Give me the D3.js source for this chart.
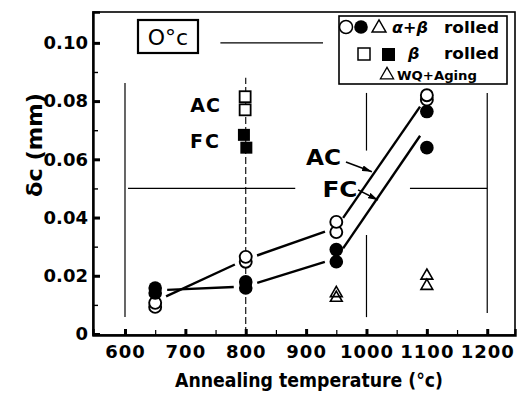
<!DOCTYPE html>
<html>
<head>
<meta charset="utf-8">
<script src="https://cdn.jsdelivr.net/npm/d3@7/dist/d3.min.js"></script>
<style>
  body { margin: 0; background: #fff; }
  svg { display: block; }
  text { font-family: "DejaVu Sans", sans-serif; fill: #000; }
</style>
</head>
<body>
<figure id="chart" style="margin:0"></figure>
<script>
// ---- data ----
const xTicks = [600, 700, 800, 900, 1000, 1100, 1200];
const yTicks = [0, 0.02, 0.04, 0.06, 0.08, 0.10];
const lineTemps = [650, 800, 950, 1100];
const acLine = [0.0112, 0.0256, 0.0365, 0.0815];
const fcLine = [0.0150, 0.0163, 0.0260, 0.0715];

// alpha+beta rolled, AC (open) and FC (filled)
const abOpen = [[650, 0.0093], [650, 0.0107], [800, 0.0248], [800, 0.0265],
                [950, 0.0350], [950, 0.0385], [1100, 0.0805], [1100, 0.0820]];
const abFilled = [[650, 0.0141], [650, 0.0158], [800, 0.0158], [800, 0.0179],
                  [950, 0.0248], [950, 0.0290], [1100, 0.0764], [1100, 0.0640]];
// beta rolled
const bOpen = [[799, 0.0815], [799, 0.0770]];
const bFilled = [[797, 0.0684], [801, 0.0640]];
// WQ + aging
const wqTri = [[950, 0.0124], [950, 0.0140], [1100, 0.0165], [1100, 0.0200]];

// leftover guide lines of the original graph paper [x1, y1, x2, y2]
const guides = [
  [600, 0.0058, 600, 0.0862],
  [1000, 0.0630, 1000, 0.0828],
  [1000, 0.0058, 1000, 0.0340],
  [1200, 0.0072, 1200, 0.0828],
  [758, 0.100, 928, 0.100],
  [605, 0.050, 882, 0.050],
  [1072, 0.050, 1200, 0.050]
];
const dashedGuide = [800, 0, 800, 0.088];

const width = 517, height = 396;

const svg = d3.select("figure#chart")
  .append("svg")
  .attr("width", width)
  .attr("height", height);

const x = d3.scaleLinear().domain([547, 1246]).range([93, 515]);
const y = d3.scaleLinear().domain([0, 0.1106]).range([334, 12]);

// guide lines
svg.append("g")
  .selectAll("line")
  .data(guides)
  .enter()
  .append("line")
  .attr("x1", d => x(d[0])).attr("y1", d => y(d[1]))
  .attr("x2", d => x(d[2])).attr("y2", d => y(d[3]))
  .attr("stroke", "#000").attr("stroke-width", 1.2);

svg.append("line")
  .attr("x1", x(dashedGuide[0])).attr("y1", y(dashedGuide[1]))
  .attr("x2", x(dashedGuide[2])).attr("y2", y(dashedGuide[3]))
  .attr("stroke", "#000").attr("stroke-width", 1.1)
  .attr("stroke-dasharray", "7,3");

// frame
svg.append("rect")
  .attr("x", 93).attr("y", 12)
  .attr("width", 422).attr("height", 323)
  .attr("fill", "none").attr("stroke", "#000").attr("stroke-width", 1.6);

// y axis
const yAxis = svg.append("g")
  .attr("transform", "translate(93,0)")
  .call(d3.axisLeft(y).tickValues(yTicks).tickSize(-7).tickPadding(5)
    .tickFormat(d => d === 0 ? "0" : d.toFixed(2)));
yAxis.select(".domain").attr("stroke-width", 2.4);
yAxis.selectAll(".tick line").attr("stroke-width", 3);
yAxis.selectAll("text")
  .attr("font-size", 18).attr("font-weight", "bold")
  .style("font-family", "DejaVu Sans");

svg.append("g")
  .attr("transform", "translate(93,0)")
  .call(d3.axisLeft(y).tickValues([0.01, 0.03, 0.05, 0.07, 0.09]).tickSize(-5).tickFormat(""))
  .call(g => g.select(".domain").remove())
  .selectAll("line").attr("stroke-width", 1.4);

// x axis
const xAxis = svg.append("g")
  .attr("transform", "translate(0,335)")
  .call(d3.axisBottom(x).tickValues(xTicks).tickSize(-6).tickPadding(10)
    .tickFormat(d3.format("d")));
xAxis.select(".domain").attr("stroke-width", 2.4);
xAxis.selectAll(".tick line").attr("stroke-width", 3);
xAxis.selectAll("text")
  .attr("font-size", 18).attr("font-weight", "bold")
  .attr("letter-spacing", 1)
  .style("font-family", "DejaVu Sans");

svg.append("g")
  .attr("transform", "translate(0,335)")
  .call(d3.axisBottom(x).tickValues([650, 750, 850, 950, 1050, 1150]).tickSize(-5).tickFormat(""))
  .call(g => g.select(".domain").remove())
  .selectAll("line").attr("stroke-width", 1.2);

// axis labels
svg.append("text")
  .attr("x", 175).attr("y", 387)
  .attr("font-size", 19).attr("font-weight", "bold")
  .attr("textLength", 268).attr("lengthAdjust", "spacingAndGlyphs")
  .text("Annealing temperature (°c)");

svg.append("text")
  .attr("transform", "translate(42,145) rotate(-90)")
  .attr("text-anchor", "middle")
  .attr("font-size", 22).attr("font-weight", "bold")
  .attr("textLength", 104).attr("lengthAdjust", "spacingAndGlyphs")
  .text("δc  (mm)");

// lines with gaps near the markers
function drawBroken(vals) {
  const pts = lineTemps.map((t, i) => [x(t), y(vals[i])]);
  const gap = 12;
  for (let i = 0; i < pts.length - 1; i++) {
    const [x1, y1] = pts[i], [x2, y2] = pts[i + 1];
    const len = Math.hypot(x2 - x1, y2 - y1);
    const ux = (x2 - x1) / len, uy = (y2 - y1) / len;
    svg.append("line")
      .attr("x1", x1 + ux * gap).attr("y1", y1 + uy * gap)
      .attr("x2", x2 - ux * gap).attr("y2", y2 - uy * gap)
      .attr("stroke", "#000").attr("stroke-width", 2.4);
  }
}
drawBroken(acLine);
drawBroken(fcLine);

// markers
const marks = svg.append("g");
marks.selectAll(".oc").data(abOpen).enter().append("circle")
  .attr("cx", d => x(d[0])).attr("cy", d => y(d[1])).attr("r", 6)
  .attr("fill", "#fff").attr("stroke", "#000").attr("stroke-width", 1.9);
marks.selectAll(".fc").data(abFilled).enter().append("circle")
  .attr("cx", d => x(d[0])).attr("cy", d => y(d[1])).attr("r", 6.8)
  .attr("fill", "#000");
marks.selectAll(".os").data(bOpen).enter().append("rect")
  .attr("x", d => x(d[0]) - 5.5).attr("y", d => y(d[1]) - 5.5)
  .attr("width", 11).attr("height", 11)
  .attr("fill", "#fff").attr("stroke", "#000").attr("stroke-width", 1.8);
marks.selectAll(".fs").data(bFilled).enter().append("rect")
  .attr("x", d => x(d[0]) - 6).attr("y", d => y(d[1]) - 6)
  .attr("width", 12).attr("height", 12)
  .attr("fill", "#000");
const tri = d3.symbol().type(d3.symbolTriangle).size(60);
marks.selectAll(".tr").data(wqTri).enter().append("path")
  .attr("d", tri)
  .attr("transform", d => "translate(" + x(d[0]) + "," + y(d[1]) + ")")
  .attr("fill", "none").attr("stroke", "#000").attr("stroke-width", 1.6);

// AC / FC labels beside the beta-rolled squares
svg.append("text").attr("x", 221).attr("y", 112).attr("text-anchor", "end")
  .attr("font-size", 19).attr("font-weight", "bold").attr("letter-spacing", 1).text("AC");
svg.append("text").attr("x", 221).attr("y", 148).attr("text-anchor", "end")
  .attr("font-size", 19).attr("font-weight", "bold").attr("letter-spacing", 2).text("FC");

// AC / FC arrows pointing at the lines
svg.append("defs").append("marker")
  .attr("id", "arr").attr("viewBox", "0 0 10 6")
  .attr("refX", 10).attr("refY", 3)
  .attr("markerWidth", 10).attr("markerHeight", 6)
  .attr("markerUnits", "userSpaceOnUse")
  .attr("orient", "auto")
  .append("path").attr("d", "M0,0 L10,3 L0,6 Z").attr("fill", "#000");

const notes = [
  { text: "AC", tx: 900, ty: 0.058, ax1: 966, ay1: 0.0591, ax2: 1009, ay2: 0.0557 },
  { text: "FC", tx: 927, ty: 0.047, ax1: 986, ay1: 0.0495, ax2: 1019, ay2: 0.0460 }
];
notes.forEach(n => {
  svg.append("text").attr("x", x(n.tx)).attr("y", y(n.ty))
    .attr("font-size", 21).attr("font-weight", "bold")
    .attr("textLength", 35).attr("lengthAdjust", "spacingAndGlyphs").text(n.text);
  svg.append("line")
    .attr("x1", x(n.ax1)).attr("y1", y(n.ay1))
    .attr("x2", x(n.ax2)).attr("y2", y(n.ay2))
    .attr("stroke", "#000").attr("stroke-width", 1.6)
    .attr("marker-end", "url(#arr)");
});

// temperature box
svg.append("rect").attr("x", 138).attr("y", 20).attr("width", 60).attr("height", 33)
  .attr("fill", "#fff").attr("stroke", "#000").attr("stroke-width", 2.2);
svg.append("text").attr("x", 168).attr("y", 45).attr("text-anchor", "middle")
  .attr("font-size", 22).text("O°c");

// legend
const lg = svg.append("g");
lg.append("rect").attr("x", 339).attr("y", 16).attr("width", 168).attr("height", 68)
  .attr("fill", "#fff").attr("stroke", "#000").attr("stroke-width", 1.6);
lg.append("circle").attr("cx", 346).attr("cy", 27).attr("r", 6.5)
  .attr("fill", "#fff").attr("stroke", "#000").attr("stroke-width", 1.5);
lg.append("circle").attr("cx", 361).attr("cy", 27).attr("r", 6.8).attr("fill", "#000");
lg.append("path").attr("d", d3.symbol().type(d3.symbolTriangle).size(85))
  .attr("transform", "translate(379,28)")
  .attr("fill", "none").attr("stroke", "#000").attr("stroke-width", 1.4);
lg.append("text").attr("x", 392).attr("y", 33).attr("font-size", 16).attr("font-weight", "bold")
  .attr("font-style", "italic").text("α+β");
lg.append("text").attr("x", 444).attr("y", 33).attr("font-size", 16).attr("font-weight", "bold")
  .attr("textLength", 55).attr("lengthAdjust", "spacingAndGlyphs").text("rolled");
lg.append("rect").attr("x", 358).attr("y", 48).attr("width", 12).attr("height", 12)
  .attr("fill", "#fff").attr("stroke", "#000").attr("stroke-width", 1.5);
lg.append("rect").attr("x", 382).attr("y", 48).attr("width", 13).attr("height", 13)
  .attr("fill", "#000");
lg.append("text").attr("x", 408).attr("y", 59).attr("font-size", 16).attr("font-weight", "bold")
  .attr("font-style", "italic").text("β");
lg.append("text").attr("x", 444).attr("y", 59).attr("font-size", 16).attr("font-weight", "bold")
  .attr("textLength", 55).attr("lengthAdjust", "spacingAndGlyphs").text("rolled");
lg.append("path").attr("d", d3.symbol().type(d3.symbolTriangle).size(75))
  .attr("transform", "translate(387,75)")
  .attr("fill", "none").attr("stroke", "#000").attr("stroke-width", 1.3);
lg.append("text").attr("x", 397).attr("y", 80).attr("font-size", 13).attr("font-weight", "bold")
  .attr("textLength", 80).attr("lengthAdjust", "spacingAndGlyphs").text("WQ+Aging");
</script>
</body>
</html>
